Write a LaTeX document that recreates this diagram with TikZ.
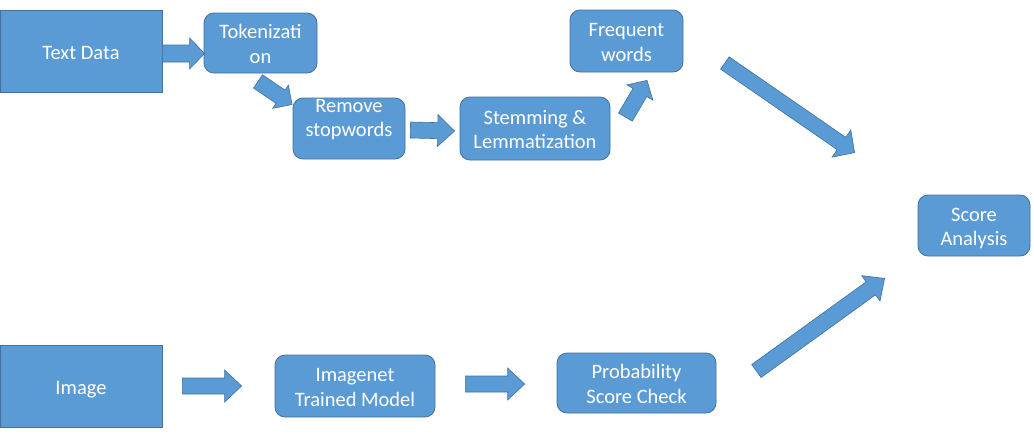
\documentclass[tikz,border=0pt]{standalone}
\usepackage{fontspec}
\setmainfont{Carlito}
\usetikzlibrary{calc}
\definecolor{boxfill}{HTML}{5B9BD5}
\definecolor{boxline}{HTML}{41719C}
% struts: top of first line, bottom of last line
\newcommand{\tp}{\rule{0pt}{21pt}}
\newcommand{\bt}{\rule[-5pt]{0pt}{5pt}}
% block arrow: #1 tail centre, #2 tip, #3 half shaft width, #4 half head width, #5 head length
\newcommand{\blockarr}[5]{%
  \coordinate (hb) at ($(#2)!#5!(#1)$);
  \draw[barrow] ($(#1)!#3!90:(#2)$) -- ($(hb)!#3!90:(#2)$) -- ($(hb)!#4!90:(#2)$) -- (#2)
    -- ($(hb)!#4!-90:(#2)$) -- ($(hb)!#3!-90:(#2)$) -- ($(#1)!#3!-90:(#2)$) -- cycle;}
\begin{document}
\begin{tikzpicture}[x=1pt,y=-1pt,
  box/.style={draw=boxline, fill=boxfill, line width=0.8pt, text=white, align=center,
    inner sep=0pt, font=\fontsize{20.5}{24.4}\selectfont},
  rbox/.style={box, rounded corners=10pt},
  barrow/.style={draw=boxline, fill=boxfill, line width=0.6pt, line join=miter}]
\useasboundingbox (0,0) rectangle (1034,439);
% nodes
\node[box, minimum width=162pt, minimum height=82pt] (td) at (81,51) {\tp Text Data\bt};
\node[rbox, minimum width=113pt, minimum height=60pt] (tok) at (260.5,43) {\tp Tokenizati\\on\bt};
\node[rbox, minimum width=112pt, minimum height=61pt,
  label={[text=white, align=center, font=\fontsize{20.5}{24.4}\selectfont, yshift=12pt]center:\tp Remove\\stopwords\bt}] (rs) at (349,128.5) {};
\node[rbox, minimum width=150pt, minimum height=63pt] (stem) at (535,128.5) {\tp Stemming \&\\Lemmatization\bt};
\node[rbox, minimum width=113pt, minimum height=62pt] (freq) at (626.5,41) {\tp Frequent\\words\bt};
\node[rbox, minimum width=112pt, minimum height=61pt] (score) at (974,225.5) {\tp Score\\Analysis\bt};
\node[box, minimum width=162pt, minimum height=82pt] (img) at (81,386) {\tp Image\bt};
\node[rbox, minimum width=160pt, minimum height=62pt] (inet) at (355,386) {\tp Imagenet\\Trained Model\bt};
\node[rbox, minimum width=159pt, minimum height=60pt] (prob) at (636.5,383) {\tp Probability\\Score Check\bt};
% arrow end points
\coordinate (t1) at ($(td.east)+(0,2.5)$);
\coordinate (h1) at ($(tok.west)+(1,10.5)$);
\coordinate (t2) at ($(tok.south)+(-2.5,8)$);
\coordinate (h2) at ($(rs.north west)+(-0.5,7)$);
\coordinate (t3) at ($(rs.east)+(5,1.5)$);
\coordinate (h3) at ($(stem.west)+(-5,2.5)$);
\coordinate (t4) at ($(stem.north east)+(15,20.5)$);
\coordinate (h4) at ($(freq.south)+(20.5,8)$);
\coordinate (t5) at ($(freq.east)+(41.5,22)$);
\coordinate (h5) at ($(score.north west)+(-63,-42)$);
\coordinate (t6) at ($(prob.east)+(40,-12)$);
\coordinate (h6) at ($(score.south west)+(-33,22)$);
\coordinate (t7) at ($(img.east)+(20,0)$);
\coordinate (h7) at ($(inet.west)+(-33,0)$);
\coordinate (t8) at ($(inet.east)+(30,-2)$);
\coordinate (h8) at ($(prob.west)+(-32,1)$);
% block arrows
\blockarr{t1}{h1}{8.5pt}{15.5pt}{15pt}
\blockarr{t2}{h2}{8pt}{14pt}{14pt}
\blockarr{t3}{h3}{8pt}{16pt}{17pt}
\blockarr{t4}{h4}{8pt}{15pt}{14pt}
\blockarr{t5}{h5}{7.5pt}{16.5pt}{16pt}
\blockarr{t6}{h6}{8pt}{15.7pt}{17pt}
\blockarr{t7}{h7}{8pt}{16pt}{17pt}
\blockarr{t8}{h8}{8pt}{16pt}{17pt}
\end{tikzpicture}
\end{document}
